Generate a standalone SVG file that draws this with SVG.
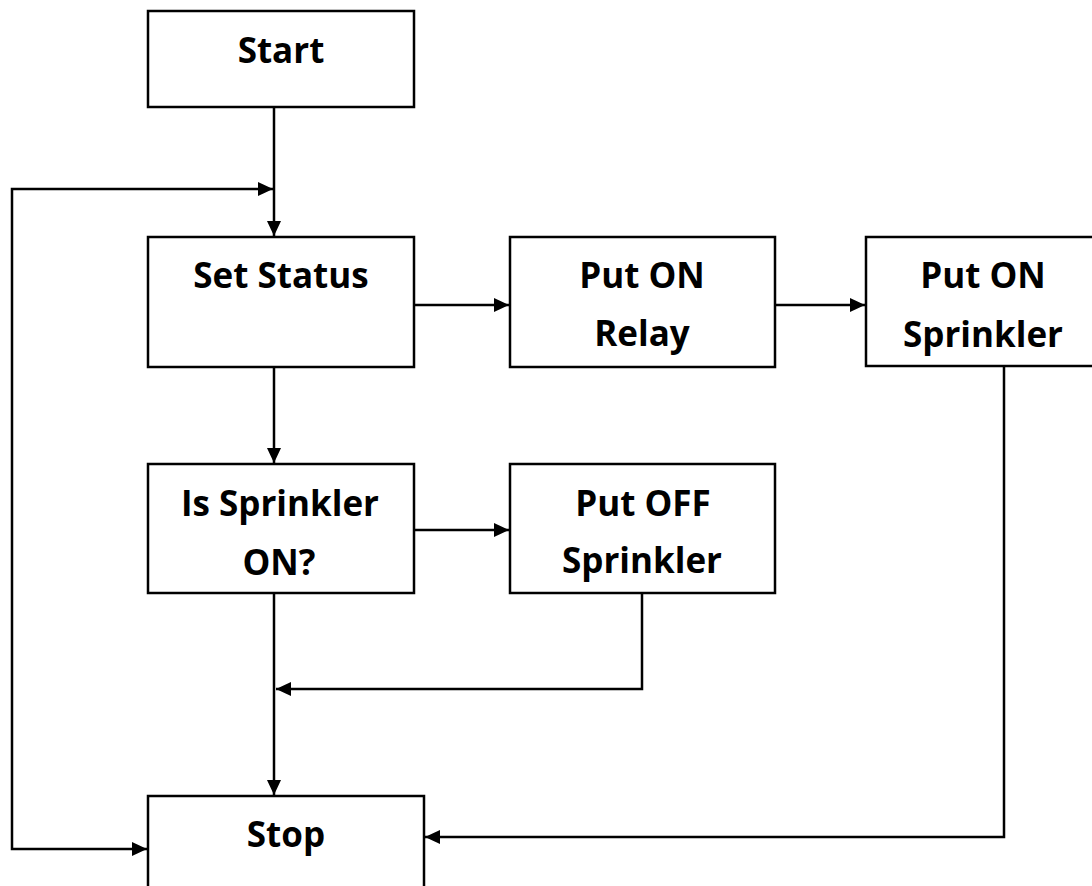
<svg xmlns="http://www.w3.org/2000/svg" width="1092" height="886" viewBox="0 0 1092 886">
<defs>
<style>
.box{fill:#fff;stroke:#000;stroke-width:2.5}
.lbl{font-family:"Open Sans","Liberation Sans",sans-serif;font-weight:700;font-size:35px;fill:#000;text-anchor:middle}
.con{fill:none;stroke:#000;stroke-width:2.5}
</style>
<marker id="ah" markerUnits="userSpaceOnUse" markerWidth="16" markerHeight="14" refX="15" refY="7" orient="auto-start-reverse">
<path d="M0,0 L15,7 L0,14 z" fill="#000"/>
</marker>
</defs>
<rect width="1092" height="886" fill="#fff"/>
<g id="connectors">
<path class="con" d="M274,107 V236" marker-end="url(#ah)"/>
<path class="con" d="M147,849 H12 V189 H273" marker-start="url(#ah)" marker-end="url(#ah)"/>
<path class="con" d="M414,305 H509" marker-end="url(#ah)"/>
<path class="con" d="M775,305 H865" marker-end="url(#ah)"/>
<path class="con" d="M274,367 V463" marker-end="url(#ah)"/>
<path class="con" d="M414,530 H509" marker-end="url(#ah)"/>
<path class="con" d="M642,593 V689 H276" marker-end="url(#ah)"/>
<path class="con" d="M274,593 V795" marker-end="url(#ah)"/>
<path class="con" d="M1004,366 V837 H425" marker-end="url(#ah)"/>
</g>
<g id="start">
<rect class="box" x="148" y="11" width="266" height="96"/>
<text class="lbl" x="281" y="63">Start</text>
</g>
<g id="set-status">
<rect class="box" x="148" y="237" width="266" height="130"/>
<text class="lbl" x="281" y="288">Set Status</text>
</g>
<g id="put-on-relay">
<rect class="box" x="510" y="237" width="265" height="130"/>
<text class="lbl" x="642" y="288">Put ON</text>
<text class="lbl" x="642" y="346">Relay</text>
</g>
<g id="put-on-sprinkler">
<rect class="box" x="866" y="237" width="240" height="129"/>
<text class="lbl" x="983" y="288">Put ON</text>
<text class="lbl" x="983" y="347">Sprinkler</text>
</g>
<g id="is-sprinkler-on">
<rect class="box" x="148" y="464" width="266" height="129"/>
<text class="lbl" x="280" y="516">Is Sprinkler</text>
<text class="lbl" x="279" y="575">ON?</text>
</g>
<g id="put-off-sprinkler">
<rect class="box" x="510" y="464" width="265" height="129"/>
<text class="lbl" x="643" y="516">Put OFF</text>
<text class="lbl" x="642" y="573">Sprinkler</text>
</g>
<g id="stop">
<rect class="box" x="148" y="796" width="276" height="110"/>
<text class="lbl" x="286" y="847">Stop</text>
</g>
</svg>
